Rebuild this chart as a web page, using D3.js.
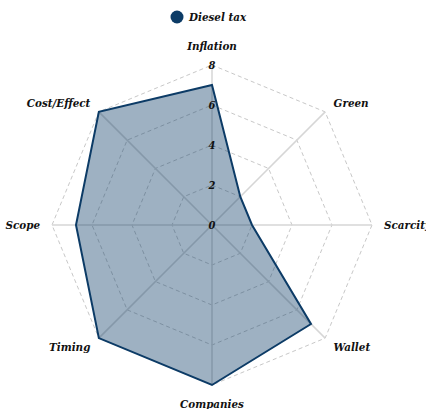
<!DOCTYPE html>
<html>
<head>
<meta charset="utf-8">
<script src="https://cdn.jsdelivr.net/npm/d3@7"></script>
<style>
  body { margin: 0; background: #fff; }
  text { font-family: "DejaVu Serif", serif; font-stretch: condensed; font-style: italic; font-weight: bold; fill: #111; }
</style>
</head>
<body>
<div id="chart"></div>
<script>
let width = 426,
    height = 409,
    cx = 212, cy = 225,
    radiusMax = 160;

const axes = ["Inflation", "Green", "Scarcity", "Wallet", "Companies", "Timing", "Scope", "Cost/Effect"];
const dieselTax = [7, 2, 2, 7, 8, 8, 6.8, 8];
const levels = [2, 4, 6, 8];
const tickLabels = [0, 2, 4, 6, 8];
const seriesName = "Diesel tax";

const color = "#0c3b66";

const svg = d3.select("#chart")
    .append("svg")
    .attr("width", width)
    .attr("height", height);

let r = d3.scaleLinear().domain([0, 8]).range([0, radiusMax]);
let angle = d3.scaleLinear().domain([0, axes.length]).range([0, 2 * Math.PI]);

const pt = (i, v) => [cx + r(v) * Math.sin(angle(i)), cy - r(v) * Math.cos(angle(i))];

// grid polygons
svg.append("g")
  .selectAll("polygon")
  .data(levels)
  .join("polygon")
  .attr("points", l => axes.map((a, i) => pt(i, l).join(",")).join(" "))
  .attr("fill", "none")
  .attr("stroke", "#c8c8c8")
  .attr("stroke-dasharray", "4,3")
  .attr("stroke-width", 1);

// axis spokes
svg.append("g")
  .selectAll("line")
  .data(axes)
  .join("line")
  .attr("x1", cx).attr("y1", cy)
  .attr("x2", (a, i) => pt(i, 8)[0])
  .attr("y2", (a, i) => pt(i, 8)[1])
  .attr("stroke", "#d6d6d6")
  .attr("stroke-width", 1.5);

// data area
svg.append("path")
  .attr("d", d3.line().curve(d3.curveLinearClosed)(dieselTax.map((v, i) => pt(i, v))))
  .attr("fill", color)
  .attr("fill-opacity", 0.4)
  .attr("stroke", color)
  .attr("stroke-width", 2);

// tick labels
svg.append("g")
  .selectAll("text")
  .data(tickLabels)
  .join("text")
  .attr("x", cx)
  .attr("y", d => cy - r(d))
  .attr("text-anchor", "middle")
  .attr("dominant-baseline", "central")
  .style("font-size", "11px")
  .text(d => d);

// axis labels
svg.append("g")
  .selectAll("text")
  .data(axes)
  .join("text")
  .attr("x", (a, i) => cx + 172 * Math.sin(angle(i)))
  .attr("y", (a, i) => {
    const c = Math.cos(angle(i));
    return cy - (Math.abs(c) > 0.99 ? 179 : 172) * c;
  })
  .attr("text-anchor", (a, i) => {
    const s = Math.sin(angle(i));
    return Math.abs(s) < 0.01 ? "middle" : (s > 0 ? "start" : "end");
  })
  .attr("dominant-baseline", "central")
  .style("font-size", "11.5px")
  .text(d => d);

// legend
svg.append("circle").attr("cx", 177).attr("cy", 17).attr("r", 6.5).style("fill", color);
svg.append("text").attr("x", 189).attr("y", 17).text(seriesName)
  .style("font-size", "11.5px").attr("dominant-baseline", "central");
</script>
</body>
</html>
